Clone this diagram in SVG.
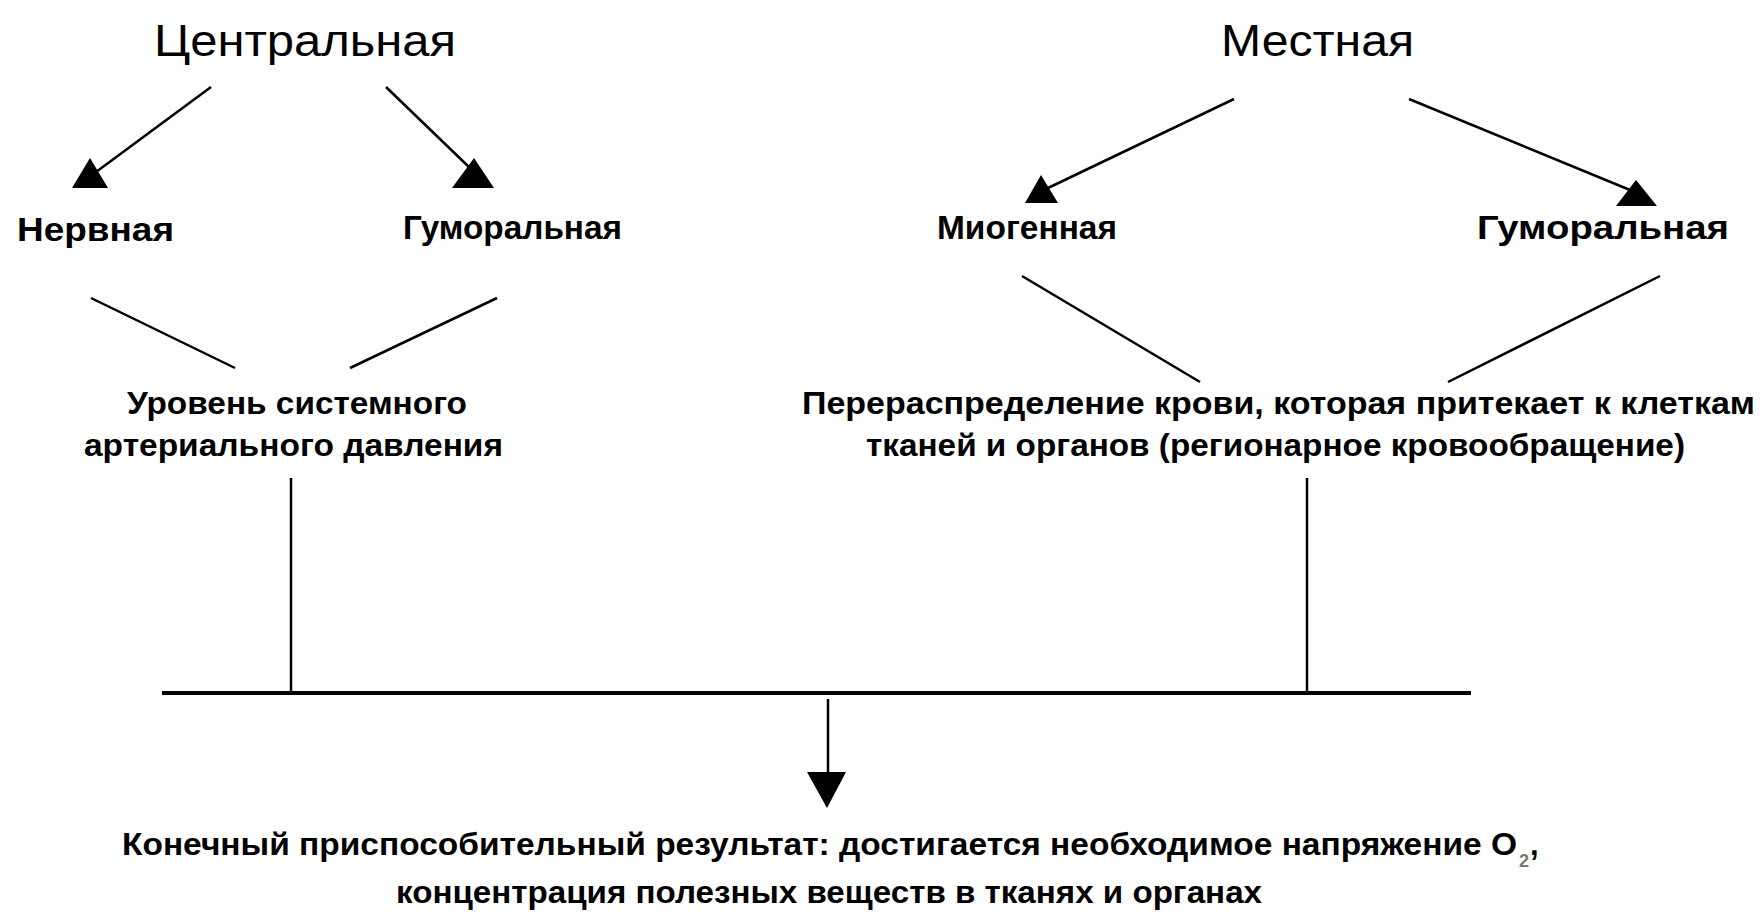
<svg xmlns="http://www.w3.org/2000/svg" width="1764" height="912" viewBox="0 0 1764 912">
<style>
.title{font-family:"Liberation Sans",Arial,sans-serif;font-size:44px;fill:#000}
.lbl{font-family:"Liberation Sans",Arial,sans-serif;font-size:33px;font-weight:bold;fill:#000}
.txt{font-family:"Liberation Sans",Arial,sans-serif;font-size:31px;font-weight:bold;fill:#000}
.ln{stroke:#000;stroke-width:2.5;fill:none}
.bar{stroke:#000;stroke-width:4;fill:none}
.head{fill:#000;stroke:none}
</style>
<rect width="1764" height="912" fill="#fff"/>
<g id="central"><text class="title" x="154" y="56" textLength="302" lengthAdjust="spacingAndGlyphs">Центральная</text></g>
<g id="local"><text class="title" x="1221" y="56" textLength="193" lengthAdjust="spacingAndGlyphs">Местная</text></g>
<g id="nervous"><text class="lbl" x="17" y="241" textLength="157" lengthAdjust="spacingAndGlyphs">Нервная</text></g>
<g id="humoral-central"><text class="lbl" x="403" y="239" textLength="219" lengthAdjust="spacingAndGlyphs">Гуморальная</text></g>
<g id="myogenic"><text class="lbl" x="937" y="239" textLength="180" lengthAdjust="spacingAndGlyphs">Миогенная</text></g>
<g id="humoral-local"><text class="lbl" x="1477" y="239" textLength="252" lengthAdjust="spacingAndGlyphs">Гуморальная</text></g>
<g id="pressure">
<text class="txt" x="127" y="414" textLength="340" lengthAdjust="spacingAndGlyphs">Уровень системного</text>
<text class="txt" x="84" y="456" textLength="419" lengthAdjust="spacingAndGlyphs">артериального давления</text>
</g>
<g id="redistribution">
<text class="txt" x="802" y="414" textLength="953" lengthAdjust="spacingAndGlyphs">Перераспределение крови, которая притекает к клеткам</text>
<text class="txt" x="866" y="456" textLength="819" lengthAdjust="spacingAndGlyphs">тканей и органов (регионарное кровообращение)</text>
</g>
<g id="result">
<text class="txt" x="122" y="855" textLength="1395" lengthAdjust="spacingAndGlyphs">Конечный приспособительный результат: достигается необходимое напряжение O</text>
<text class="txt" x="1519" y="867" style="font-size:18px;fill:#777">2</text>
<text class="txt" x="1530" y="855">,</text>
<text class="txt" x="396" y="903" textLength="866" lengthAdjust="spacingAndGlyphs">концентрация полезных веществ в тканях и органах</text>
</g>
<g id="connectors">
<line class="ln" x1="211" y1="87" x2="96" y2="172"/>
<polygon class="head" points="72,188 108,188 90,158"/>
<line class="ln" x1="386" y1="87" x2="470" y2="168"/>
<polygon class="head" points="452,188 494,188 474,158"/>
<line class="ln" x1="1234" y1="99" x2="1048" y2="188"/>
<polygon class="head" points="1025,203 1058,203 1041,175"/>
<line class="ln" x1="1409" y1="99" x2="1630" y2="190"/>
<polygon class="head" points="1616,206 1657,206 1636,180"/>
<line class="ln" x1="91" y1="298" x2="235" y2="368"/>
<line class="ln" x1="497" y1="298" x2="350" y2="368"/>
<line class="ln" x1="1022" y1="276" x2="1200" y2="382"/>
<line class="ln" x1="1660" y1="276" x2="1448" y2="382"/>
<line class="ln" x1="291" y1="478" x2="291" y2="693"/>
<line class="ln" x1="1307" y1="478" x2="1307" y2="693"/>
<line class="bar" x1="162" y1="693" x2="1471" y2="693"/>
<line class="ln" x1="828" y1="699" x2="828" y2="776"/>
<polygon class="head" points="807,772 846,772 827,808"/>
</g>
</svg>
